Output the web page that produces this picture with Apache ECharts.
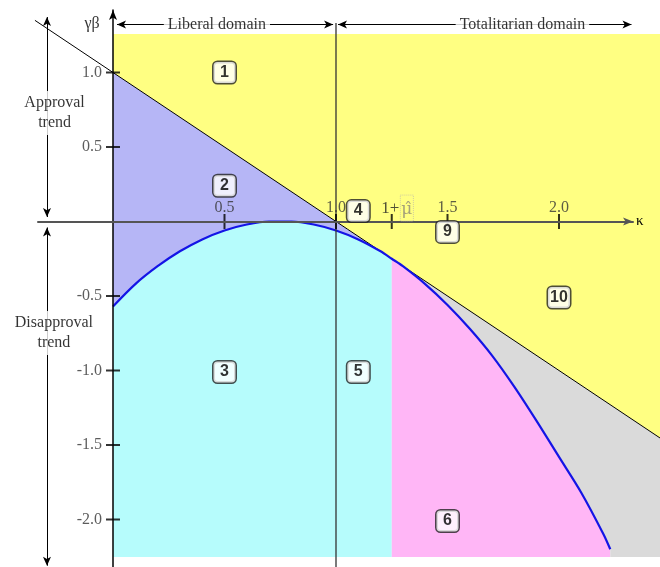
<!DOCTYPE html>
<html>
<head>
<meta charset="utf-8">
<script src="https://cdn.jsdelivr.net/npm/echarts@6/dist/echarts.min.js"></script>
<style>
html, body { margin: 0; padding: 0; background: #fff; }
#chart { width: 660px; height: 567px; }
</style>
</head>
<body>
<div id="chart"></div>
<script>
// blue curve
const curveK  = [0, 0.1, 0.2, 0.3, 0.4, 0.5, 0.6, 0.7, 0.8, 0.9, 1.0, 1.1, 1.2, 1.25, 1.3, 1.4, 1.5, 1.6, 1.7, 1.8, 1.9, 2.0, 2.1, 2.2, 2.23];
const curveGB = [-0.57, -0.42, -0.30, -0.20, -0.12, -0.06, -0.02, 0.00, 0.00, -0.02, -0.06, -0.12, -0.20, -0.25, -0.30, -0.42, -0.56, -0.72, -0.90, -1.11, -1.34, -1.58, -1.82, -2.10, -2.20];
// straight black line (ends)
const lineK  = [-0.35, 2.453];
const lineGB = [1.35, -1.453];
// 1 + mu hat
const muHatK = 1.25;
// shaded area extent
const areaTop = 1.258, areaBottom = -2.252, areaRight = 2.453;

const xTicks = [0.5, 1.0, 1.5, 2.0];
const yTicks = [1.0, 0.5, -0.5, -1.0, -1.5, -2.0];

const regionNames = ['1', '2', '3', '4', '5', '6', '9', '10'];
const regionK  = [0.5, 0.5, 0.5, 1.1, 1.1, 1.5, 1.5, 2.0];
const regionGB = [1.0, 0.24, -1.01, 0.07, -1.01, -2.01, -0.07, -0.51];

// pixel mapping of the picture
const X0 = 113, PX = 223, Y0 = 221.5, PY = 149;
const G = { left: 38, right: 27, top: 10, bottom: 0 };
const xMin = (G.left - X0) / PX, xMax = (660 - G.right - X0) / PX;
const yMax = (Y0 - G.top) / PY, yMin = -(567 - G.bottom - Y0) / PY;

const serif = 'Liberation Serif';

function lineAt(k) {
	let t = (k - lineK[0]) / (lineK[1] - lineK[0]);
	return lineGB[0] + t * (lineGB[1] - lineGB[0]);
}

let curvePts = curveK.map((k, i) => [k, curveGB[i]]);
let leftPart = curvePts.filter(p => p[0] <= muHatK);
let rightPart = curvePts.filter(p => p[0] >= muHatK);
let lastK = curveK[curveK.length - 1];

let regions = [
	{ color: '#ffff82', pts: [[0, areaTop], [areaRight, areaTop], [areaRight, lineAt(areaRight)], [0, lineAt(0)]] },
	{ color: '#b6b6f6', pts: [[0, lineAt(0)], [muHatK, lineAt(muHatK)]].concat(leftPart.slice().reverse()) },
	{ color: '#b6fcfc', pts: leftPart.concat([[muHatK, areaBottom], [0, areaBottom]]) },
	{ color: '#ffb6f6', pts: rightPart.concat([[lastK, areaBottom], [muHatK, areaBottom]]) },
	{ color: '#dadada', pts: [[muHatK, lineAt(muHatK)], [areaRight, lineAt(areaRight)], [areaRight, areaBottom], [lastK, areaBottom]].concat(rightPart.slice().reverse()) }
];

function arrowSeg(k1, g1, k2, g2) {
	return [{ coord: [k1, g1] }, { coord: [k2, g2] }];
}

function textItem(k, g, text, extra) {
	return Object.assign({ value: [k, g], name: text }, extra || {});
}

let chart = echarts.init(document.getElementById('chart'));

let option = {
	animation: false,
	grid: { left: G.left, right: G.right, top: G.top, bottom: G.bottom },
	xAxis: {
		type: 'value', min: xMin, max: xMax, z: 5,
		name: 'κ', nameLocation: 'end', nameGap: 3,
		nameTextStyle: { fontFamily: serif, fontSize: 15, color: '#000', verticalAlign: 'middle' },
		axisLine: { onZero: true, symbol: ['none', 'arrow'], symbolSize: [6, 10], lineStyle: { color: '#555', width: 2 } },
		axisTick: { show: false },
		splitLine: { show: false },
		axisLabel: { show: false }
	},
	yAxis: {
		type: 'value', min: yMin, max: yMax, z: 5,
		axisLine: { onZero: true, symbol: ['none', 'arrow'], symbolSize: [6, 10], lineStyle: { color: '#000', width: 1.5 } },
		axisTick: { show: false },
		splitLine: { show: false },
		axisLabel: { show: false }
	},
	series: [
		{
			type: 'custom', name: 'regions', z: 1, silent: true, clip: false,
			data: regions.map(r => r.pts[0]),
			renderItem: function(params, api) {
				let r = regions[params.dataIndex];
				return {
					type: 'polygon',
					shape: { points: r.pts.map(p => api.coord(p)) },
					style: { fill: r.color, stroke: null }
				};
			}
		},
		{
			// straight black line, drawn past the grid edge
			type: 'custom', name: 'boundary', z: 3, silent: true, clip: false,
			data: [[lineK[0], lineGB[0]]],
			renderItem: function(params, api) {
				return {
					type: 'polyline',
					shape: { points: lineK.map((k, i) => api.coord([k, lineGB[i]])) },
					style: { stroke: '#000', lineWidth: 1, fill: null }
				};
			}
		},
		{
			type: 'line', name: 'curve', z: 3, clip: false, silent: true,
			symbol: 'none', smooth: 0.3,
			data: curvePts,
			lineStyle: { color: '#1414e6', width: 2.2 }
		},
		{
			type: 'line', name: 'kappa1', z: 3, silent: true, symbol: 'none',
			data: [[1, (Y0 - 23) / PY], [1, yMin]],
			lineStyle: { color: '#333', width: 1.3 }
		},
		{
			type: 'line', name: 'arrows', z: 4, silent: true, clip: false,
			data: [],
			markLine: {
				silent: true, symbol: ['arrow', 'arrow'], symbolSize: [6, 9],
				label: { show: false },
				lineStyle: { color: '#000', width: 1, type: 'solid' },
				data: [
					arrowSeg(-0.296, 1.372, -0.296, 0.03),
					arrowSeg(-0.296, -0.04, -0.296, -2.31),
					arrowSeg(0.018, 1.322, 0.987, 1.322),
					arrowSeg(1.009, 1.322, 2.325, 1.322)
				]
			}
		},
		{
			type: 'scatter', name: 'ticks', z: 4, silent: true,
			symbol: 'rect',
			data: xTicks.concat([muHatK]).map(k => ({ value: [k, 0], symbolSize: [2, 15] }))
				.concat(yTicks.map(g => ({ value: [0, g], symbolSize: [14, 2] }))),
			itemStyle: { color: '#000' }
		},
		{
			type: 'scatter', name: 'xTickLabels', z: 6, silent: true,
			symbolSize: 0,
			data: xTicks.map(k => ({ value: [k, 0], name: k.toFixed(1) })),
			label: { show: true, position: 'top', distance: 6, formatter: '{b}', fontFamily: serif, fontSize: 16, color: '#333' }
		},
		{
			type: 'scatter', name: 'yTickLabels', z: 6, silent: true,
			symbolSize: 0,
			data: yTicks.map(g => ({ value: [0, g], name: g.toFixed(1) })),
			label: { show: true, position: 'left', distance: 11, formatter: '{b}', fontFamily: serif, fontSize: 16, color: '#333' }
		},
		{
			type: 'scatter', name: 'regionLabels', z: 6, silent: true,
			symbolSize: 0,
			data: regionNames.map((n, i) => ({ value: [regionK[i], regionGB[i]], name: n })),
			label: {
				show: true, position: 'inside', formatter: '{b}',
				fontFamily: 'Liberation Sans', fontWeight: 'bold', fontSize: 16, lineHeight: 15, color: '#000',
				width: 16, align: 'center',
				backgroundColor: '#fff', borderColor: '#222', borderWidth: 1.5, borderRadius: 4,
				padding: [3, 3]
			}
		},
		{
			type: 'scatter', name: 'texts', z: 6, silent: true,
			symbolSize: 0,
			label: {
				show: true, position: 'inside', formatter: '{b}',
				fontFamily: serif, fontSize: 16, color: '#000'
			},
			data: [
				textItem(-0.094, 1.326, 'γβ'),
				textItem(0.466, 1.322, 'Liberal domain', { label: { backgroundColor: '#fff', padding: [1, 4] } }),
				textItem(1.836, 1.322, 'Totalitarian domain', { label: { backgroundColor: '#fff', padding: [1, 4] } }),
				textItem(-0.262, 0.729, 'Approval\ntrend', { label: { backgroundColor: '#fff', lineHeight: 20, padding: [2, 0] } }),
				textItem(-0.265, -0.748, 'Disapproval\ntrend', { label: { backgroundColor: '#fff', lineHeight: 20, padding: [2, 0] } }),
				textItem(1.275, 0.09, '1+μ̂', {
					label: {
						formatter: '{a|1+}{s| }{m|μ̂}',
						rich: {
							a: { fontFamily: serif, fontSize: 17, color: '#222' },
							s: { fontSize: 4 },
							m: { fontFamily: 'DejaVu Serif', fontSize: 17, color: '#8e8a78', borderColor: '#c4c2a8', borderWidth: 1, borderType: 'dotted', padding: [6, 1, 3, 1] }
						}
					}
				})
			]
		}
	]
};

chart.setOption(option);
</script>
</body>
</html>
